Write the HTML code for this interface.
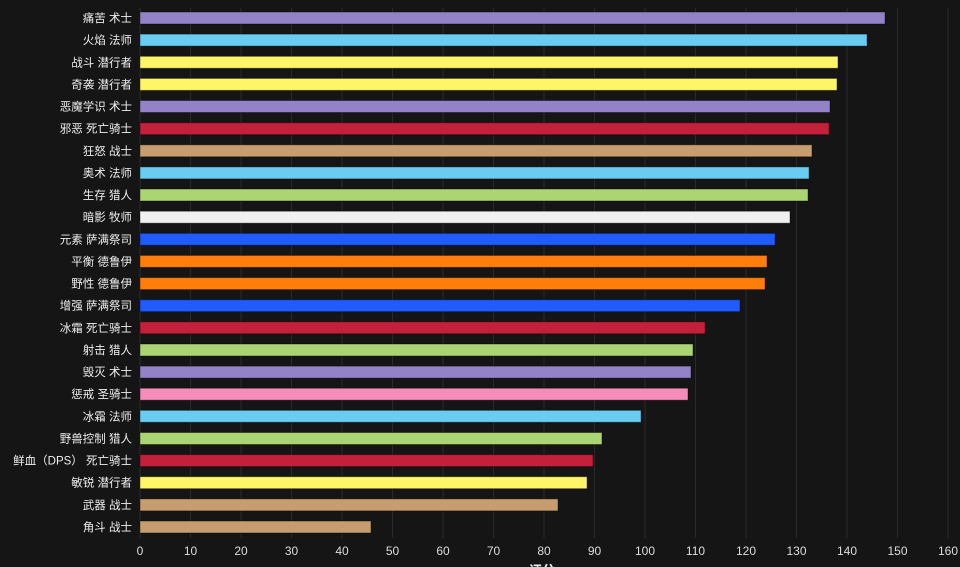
<!DOCTYPE html><html><head><meta charset="utf-8"><style>body{margin:0;background:#151515;}svg{display:block}text{font-family:"Liberation Sans","Noto Sans CJK SC",sans-serif;}</style></head><body>
<svg width="960" height="567" xmlns="http://www.w3.org/2000/svg">
<rect width="960" height="567" fill="#151515"/>
<g stroke="#2a2a2a" stroke-width="1">
<line x1="140" y1="8" x2="140" y2="538"/><line x1="190.5" y1="8" x2="190.5" y2="538"/><line x1="241" y1="8" x2="241" y2="538"/><line x1="291.5" y1="8" x2="291.5" y2="538"/><line x1="342" y1="8" x2="342" y2="538"/><line x1="392.5" y1="8" x2="392.5" y2="538"/><line x1="443" y1="8" x2="443" y2="538"/><line x1="493.5" y1="8" x2="493.5" y2="538"/><line x1="544" y1="8" x2="544" y2="538"/><line x1="594.5" y1="8" x2="594.5" y2="538"/><line x1="645" y1="8" x2="645" y2="538"/><line x1="695.5" y1="8" x2="695.5" y2="538"/><line x1="746" y1="8" x2="746" y2="538"/><line x1="796.5" y1="8" x2="796.5" y2="538"/><line x1="847" y1="8" x2="847" y2="538"/><line x1="897.5" y1="8" x2="897.5" y2="538"/><line x1="948" y1="8" x2="948" y2="538"/>
</g>
<g fill="#ddd" font-size="12" text-anchor="middle">
<text x="140" y="555">0</text><text x="190.5" y="555">10</text><text x="241" y="555">20</text><text x="291.5" y="555">30</text><text x="342" y="555">40</text><text x="392.5" y="555">50</text><text x="443" y="555">60</text><text x="493.5" y="555">70</text><text x="544" y="555">80</text><text x="594.5" y="555">90</text><text x="645" y="555">100</text><text x="695.5" y="555">110</text><text x="746" y="555">120</text><text x="796.5" y="555">130</text><text x="847" y="555">140</text><text x="897.5" y="555">150</text><text x="948" y="555">160</text>
</g>
<g stroke="rgba(0,0,0,0.4)" stroke-width="1">
<rect x="140" y="12" width="745" height="12" fill="#9482c9"/>
<rect x="140" y="34.1" width="727" height="12" fill="#69ccf0"/>
<rect x="140" y="56.3" width="698" height="12" fill="#fff569"/>
<rect x="140" y="78.4" width="697" height="12" fill="#fff569"/>
<rect x="140" y="100.5" width="690" height="12" fill="#9482c9"/>
<rect x="140" y="122.7" width="689" height="12" fill="#c41f3b"/>
<rect x="140" y="144.8" width="672" height="12" fill="#c79c6e"/>
<rect x="140" y="166.9" width="669" height="12" fill="#69ccf0"/>
<rect x="140" y="189" width="668" height="12" fill="#abd473"/>
<rect x="140" y="211.2" width="650" height="12" fill="#f0f0f0"/>
<rect x="140" y="233.3" width="635" height="12" fill="#1f5bff"/>
<rect x="140" y="255.4" width="627" height="12" fill="#ff7d0a"/>
<rect x="140" y="277.6" width="625" height="12" fill="#ff7d0a"/>
<rect x="140" y="299.7" width="600" height="12" fill="#1f5bff"/>
<rect x="140" y="321.8" width="565" height="12" fill="#c41f3b"/>
<rect x="140" y="344" width="553" height="12" fill="#abd473"/>
<rect x="140" y="366.1" width="551" height="12" fill="#9482c9"/>
<rect x="140" y="388.2" width="548" height="12" fill="#f58cba"/>
<rect x="140" y="410.3" width="501" height="12" fill="#69ccf0"/>
<rect x="140" y="432.5" width="462" height="12" fill="#abd473"/>
<rect x="140" y="454.6" width="453" height="12" fill="#c41f3b"/>
<rect x="140" y="476.7" width="447" height="12" fill="#fff569"/>
<rect x="140" y="498.9" width="418" height="12" fill="#c79c6e"/>
<rect x="140" y="521" width="231" height="12" fill="#c79c6e"/>
</g>
<g fill="#eee" font-size="11.5" text-anchor="end">
<text x="132" y="22">痛苦 术士</text>
<text x="132" y="44.1">火焰 法师</text>
<text x="132" y="66.3">战斗 潜行者</text>
<text x="132" y="88.4">奇袭 潜行者</text>
<text x="132" y="110.5">恶魔学识 术士</text>
<text x="132" y="132.7">邪恶 死亡骑士</text>
<text x="132" y="154.8">狂怒 战士</text>
<text x="132" y="176.9">奥术 法师</text>
<text x="132" y="199">生存 猎人</text>
<text x="132" y="221.2">暗影 牧师</text>
<text x="132" y="243.3">元素 萨满祭司</text>
<text x="132" y="265.4">平衡 德鲁伊</text>
<text x="132" y="287.6">野性 德鲁伊</text>
<text x="132" y="309.7">增强 萨满祭司</text>
<text x="132" y="331.8">冰霜 死亡骑士</text>
<text x="132" y="354">射击 猎人</text>
<text x="132" y="376.1">毁灭 术士</text>
<text x="132" y="398.2">惩戒 圣骑士</text>
<text x="132" y="420.3">冰霜 法师</text>
<text x="132" y="442.5">野兽控制 猎人</text>
<text x="132" y="464.6">鲜血（DPS） 死亡骑士</text>
<text x="132" y="486.7">敏锐 潜行者</text>
<text x="132" y="508.9">武器 战士</text>
<text x="132" y="531">角斗 战士</text>
</g>
<text x="542" y="575" fill="#eee" font-size="13" font-weight="bold" text-anchor="middle">评分</text>
</svg></body></html>
